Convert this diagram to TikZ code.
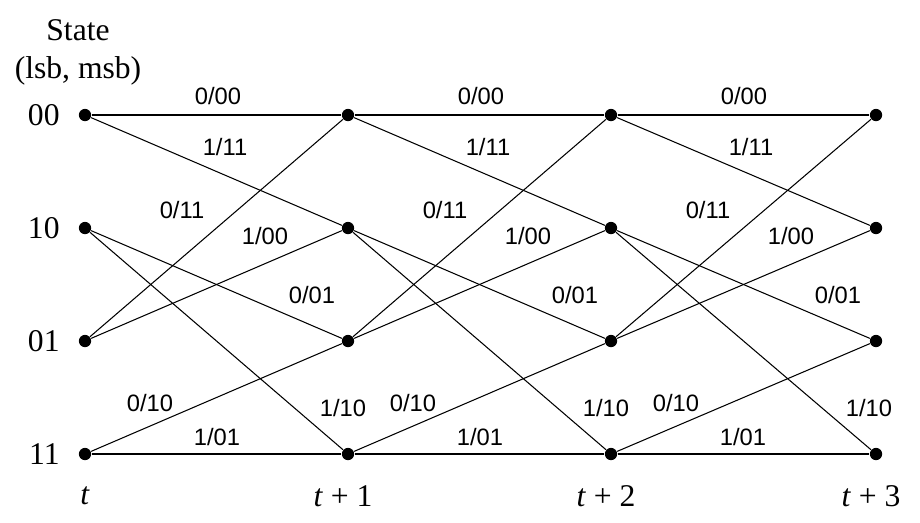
\documentclass[tikz,border=0pt]{standalone}
\usepackage{fontspec}
\setmainfont{Liberation Serif}
\setsansfont{Liberation Sans}
\begin{document}
\begin{tikzpicture}[x=0.02cm,y=-0.02cm,line width=0.6pt,
  dot/.style={circle,fill,inner sep=0pt,minimum size=7pt},
  lbl/.style={font=\sffamily\fontsize{13.5}{15}\selectfont},
  st/.style={font=\fontsize{18}{20}\selectfont}]
  \useasboundingbox (0,0) rectangle (920,522);
  %states
  \foreach \c/\x in {0/85,1/348,2/611,3/876}{
    \node[dot] (s00\c) at (\x,115) {};
    \node[dot] (s10\c) at (\x,228) {};
    \node[dot] (s01\c) at (\x,341) {};
    \node[dot] (s11\c) at (\x,454) {};
  }
  \node[st,anchor=east] (l00) at (66,115) {00};
  \node[st,anchor=east] (l10) at (66,228) {10};
  \node[st,anchor=east] (l01) at (66,341) {01};
  \node[st,anchor=east] (l11) at (66,454) {11};
  \node[st] (state) at (78,30) {State};
  \node[st] (lsb) at (78,71) {(lsb, msb)};
  \node[st] (t0) at (85,496) {\textit{t}};
  \node[st] (t1) at (343,496) {\textit{t} + 1};
  \node[st] (t2) at (606,496) {\textit{t} + 2};
  \node[st] (t3) at (871,496) {\textit{t} + 3};
  %branches
  \foreach \c/\n/\o in {0/1/0,1/2/263,2/3/526}{
    \draw (s00\c) -- (s00\n);
    \draw (s00\c) -- (s10\n);
    \draw (s10\c) -- (s01\n);
    \draw (s10\c) -- (s11\n);
    \draw (s01\c) -- (s00\n);
    \draw (s01\c) -- (s10\n);
    \draw (s11\c) -- (s01\n);
    \draw (s11\c) -- (s11\n);
    \node[lbl] (a\c) at (218+\o,96) {0/00};
    \node[lbl] (b\c) at (225+\o,147) {1/11};
    \node[lbl] (c\c) at (182+\o,210) {0/11};
    \node[lbl] (d\c) at (265+\o,236) {1/00};
    \node[lbl] (e\c) at (312+\o,295) {0/01};
    \node[lbl] (f\c) at (343+\o,408) {1/10};
    \node[lbl] (g\c) at (150+\o,403) {0/10};
    \node[lbl] (h\c) at (217+\o,437) {1/01};
  }
\end{tikzpicture}
\end{document}
